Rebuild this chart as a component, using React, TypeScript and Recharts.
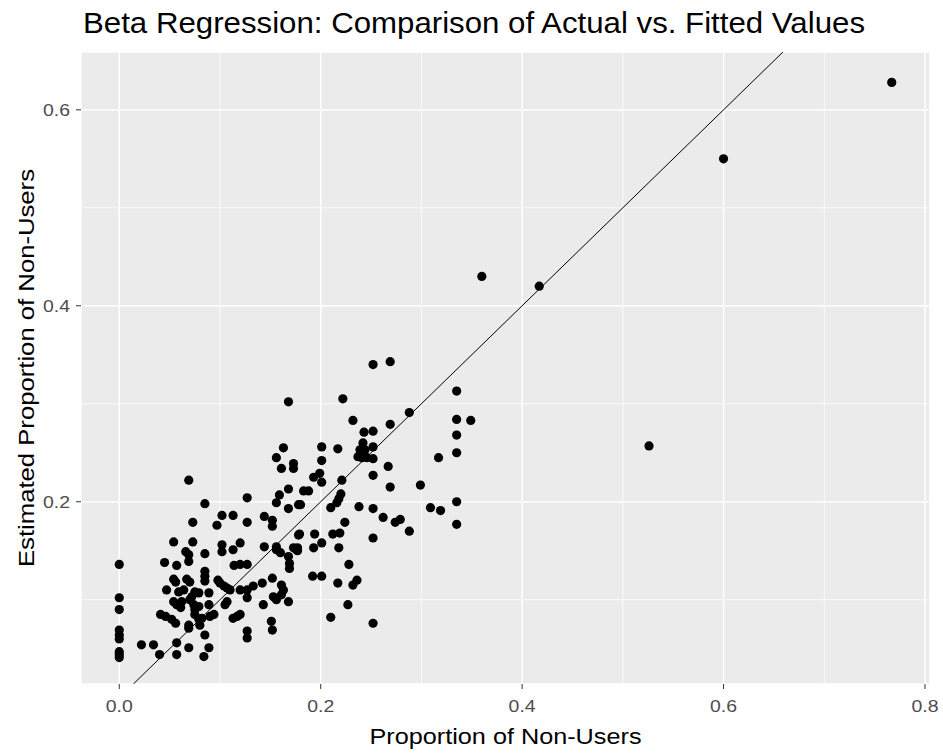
import React from "react";
import {
  ScatterChart,
  Scatter,
  XAxis,
  YAxis,
  CartesianGrid,
  ReferenceLine,
  Label,
} from "recharts";

const chartTitle = "Beta Regression: Comparison of Actual vs. Fitted Values";
const xTitle = "Proportion of Non-Users";
const yTitle = "Estimated Proportion of Non-Users";

const xTicks = [0, 0.2, 0.4, 0.6, 0.8];
const yTicks = [0.2, 0.4, 0.6];
const xMinor = [0.1, 0.3, 0.5, 0.7];
const yMinor = [0.1, 0.3, 0.5];
const xDomain = [-0.038, 0.805];
const yDomain = [0.014, 0.659];
const identityEnds = [0.014, 0.659];

const actual = [
  0, 0, 0, 0, 0, 0, 0, 0, 0,
  0.022, 0.034, 0.040, 0.041, 0.046, 0.045, 0.047,
  0.052, 0.056, 0.054, 0.054, 0.056, 0.054, 0.057, 0.057, 0.057, 0.057,
  0.059, 0.062, 0.061, 0.064,
  0.066, 0.069, 0.069, 0.067, 0.070, 0.069, 0.073, 0.073,
  0.070, 0.074, 0.075, 0.079, 0.072, 0.075, 0.079,
  0.069, 0.069, 0.069, 0.075, 0.079, 0.080, 0.082,
  0.085, 0.085, 0.085, 0.085, 0.085, 0.089, 0.089, 0.090, 0.094, 0.085, 0.089, 0.084,
  0.097, 0.102, 0.113, 0.102, 0.102, 0.113, 0.098, 0.100, 0.104, 0.107, 0.110, 0.107, 0.105,
  0.114, 0.120, 0.127, 0.120, 0.127, 0.127,
  0.113, 0.117, 0.120, 0.120, 0.127, 0.133, 0.142, 0.127, 0.127, 0.127,
  0.144, 0.152, 0.152, 0.144, 0.156, 0.143, 0.152, 0.153, 0.156, 0.161, 0.168, 0.151, 0.152,
  0.156, 0.160, 0.161, 0.163,
  0.168, 0.163, 0.156, 0.173, 0.173, 0.161, 0.168, 0.159, 0.156, 0.168, 0.178, 0.178, 0.173,
  0.168, 0.169, 0.169, 0.176,
  0.183, 0.188, 0.180, 0.179, 0.194, 0.177, 0.193, 0.177,
  0.201, 0.201, 0.199, 0.193, 0.201, 0.201, 0.192, 0.201,
  0.217, 0.221, 0.220, 0.218, 0.216, 0.210, 0.212, 0.219, 0.218, 0.217, 0.210,
  0.222, 0.232, 0.224, 0.228, 0.232, 0.236, 0.227,
  0.243, 0.252, 0.242, 0.239, 0.244, 0.237, 0.241, 0.246, 0.252, 0.252, 0.252, 0.238, 0.252, 0.252, 0.252, 0.252,
  0.269, 0.269, 0.267, 0.269, 0.262, 0.274, 0.279,
  0.288, 0.288, 0.299, 0.309, 0.319, 0.317,
  0.335, 0.335, 0.349, 0.335, 0.335, 0.335, 0.335,
  0.360, 0.417, 0.526, 0.600, 0.767,
];

const fitted = [
  0.136, 0.102, 0.090, 0.069, 0.064, 0.060, 0.047, 0.044, 0.041,
  0.054, 0.054, 0.044, 0.085, 0.083, 0.138, 0.110,
  0.080, 0.076, 0.159, 0.121, 0.118, 0.098, 0.095, 0.135, 0.056, 0.044,
  0.108, 0.098, 0.092, 0.110,
  0.149, 0.146, 0.139, 0.121, 0.118, 0.222, 0.179, 0.159,
  0.100, 0.095, 0.090, 0.093, 0.103, 0.108, 0.107,
  0.071, 0.074, 0.051, 0.085, 0.080, 0.074, 0.081,
  0.198, 0.147, 0.129, 0.124, 0.119, 0.107, 0.095, 0.083, 0.085, 0.064, 0.051, 0.042,
  0.176, 0.186, 0.186, 0.156, 0.149, 0.151, 0.120, 0.117, 0.114, 0.112, 0.110, 0.098, 0.095,
  0.135, 0.136, 0.136, 0.158, 0.204, 0.179,
  0.081, 0.083, 0.085, 0.110, 0.110, 0.114, 0.117, 0.102, 0.068, 0.061,
  0.185, 0.181, 0.175, 0.154, 0.154, 0.095, 0.122, 0.103, 0.100, 0.105, 0.098, 0.078, 0.069,
  0.151, 0.148, 0.115, 0.110,
  0.302, 0.255, 0.245, 0.239, 0.234, 0.234, 0.213, 0.207, 0.199, 0.193, 0.197, 0.166, 0.153,
  0.144, 0.137, 0.132, 0.151,
  0.211, 0.211, 0.197, 0.167, 0.167, 0.153, 0.153, 0.150,
  0.256, 0.242, 0.229, 0.225, 0.220, 0.158, 0.124, 0.124,
  0.254, 0.222, 0.208, 0.203, 0.199, 0.194, 0.167, 0.168, 0.153, 0.117, 0.082,
  0.305, 0.283, 0.179, 0.136, 0.115, 0.120, 0.095,
  0.271, 0.272, 0.260, 0.253, 0.253, 0.246, 0.245, 0.245, 0.256, 0.244, 0.227, 0.195, 0.193, 0.163, 0.076, 0.340,
  0.343, 0.279, 0.236, 0.215, 0.184, 0.179, 0.182,
  0.291, 0.170, 0.217, 0.194, 0.191, 0.245,
  0.313, 0.284, 0.283, 0.268, 0.250, 0.200, 0.177,
  0.430, 0.420, 0.257, 0.550, 0.628,
];

const points = actual.map((a, i) => ({ actual: a, fitted: fitted[i] }));

const FONT = "'Liberation Sans', Arial, sans-serif";

const Dot = (props: any) => {
  const { cx, cy } = props;
  if (cx == null || cy == null) return null;
  return <circle cx={cx} cy={cy} r={4.6} fill="#000000" />;
};

const XTick = (props: any) => {
  const { x, y, payload } = props;
  return (
    <text
      x={x}
      y={y}
      dy="0.71em"
      textAnchor="middle"
      fontSize={17}
      fill="#4D4D4D"
      fontFamily={FONT}
      textLength={27}
      lengthAdjust="spacingAndGlyphs"
    >
      {Number(payload.value).toFixed(1)}
    </text>
  );
};

const YTick = (props: any) => {
  const { x, y, payload } = props;
  return (
    <text
      x={x}
      y={y}
      dy="0.355em"
      textAnchor="end"
      fontSize={17}
      fill="#4D4D4D"
      fontFamily={FONT}
      textLength={27}
      lengthAdjust="spacingAndGlyphs"
    >
      {Number(payload.value).toFixed(1)}
    </text>
  );
};

export default function App() {
  return (
    <div
      style={{
        position: "absolute",
        left: 0,
        top: 0,
        width: 943,
        height: 753,
        background: "#ffffff",
        fontFamily: FONT,
      }}
    >
      <svg
        width={943}
        height={50}
        style={{ position: "absolute", left: 0, top: 0 }}
      >
        <text
          x={83}
          y={33}
          fontSize={29}
          fill="#000000"
          fontFamily={FONT}
          textLength={782}
          lengthAdjust="spacingAndGlyphs"
        >
          {chartTitle}
        </text>
      </svg>
      <ScatterChart
        width={943}
        height={753}
        margin={{ top: 52, right: 13, bottom: 0, left: 0 }}
        style={{ fontFamily: FONT }}
      >
        <CartesianGrid
          fill="#EBEBEB"
          stroke="#FFFFFF"
          strokeWidth={1.5}
          horizontal={true}
          vertical={true}
        />
        {xMinor.map((v) => (
          <ReferenceLine
            key={"xm" + v}
            x={v}
            stroke="#FFFFFF"
            strokeWidth={0.75}
            ifOverflow="extendDomain"
          />
        ))}
        {yMinor.map((v) => (
          <ReferenceLine
            key={"ym" + v}
            y={v}
            stroke="#FFFFFF"
            strokeWidth={0.75}
            ifOverflow="extendDomain"
          />
        ))}
        <XAxis
          type="number"
          dataKey="actual"
          domain={xDomain}
          ticks={xTicks}
          allowDataOverflow
          height={69}
          axisLine={false}
          tickLine={{ stroke: "#333333", strokeWidth: 1 }}
          tickSize={5}
          tickMargin={11}
          tick={<XTick />}
        >
          <Label
            content={(p: any) => {
              const vb = p.viewBox;
              return (
                <text
                  x={vb.x + vb.width / 2}
                  y={vb.y + 60}
                  textAnchor="middle"
                  fontSize={22}
                  fill="#000000"
                  fontFamily={FONT}
                  textLength={272}
                  lengthAdjust="spacingAndGlyphs"
                >
                  {xTitle}
                </text>
              );
            }}
          />
        </XAxis>
        <YAxis
          type="number"
          dataKey="fitted"
          domain={yDomain}
          ticks={yTicks}
          allowDataOverflow
          width={81}
          axisLine={false}
          tickLine={{ stroke: "#333333", strokeWidth: 1 }}
          tickSize={5}
          tickMargin={6}
          tick={<YTick />}
        >
          <Label
            content={(p: any) => {
              const vb = p.viewBox;
              const cx = vb.x + 26;
              const cy = vb.y + vb.height / 2;
              return (
                <text
                  x={cx}
                  y={cy}
                  textAnchor="middle"
                  dominantBaseline="central"
                  fontSize={22}
                  fill="#000000"
                  fontFamily={FONT}
                  textLength={398}
                  lengthAdjust="spacingAndGlyphs"
                  transform={`rotate(-90 ${cx} ${cy})`}
                >
                  {yTitle}
                </text>
              );
            }}
          />
        </YAxis>
        <Scatter
          data={points}
          shape={<Dot />}
          isAnimationActive={false}
        />
        <ReferenceLine
          segment={[
            { x: identityEnds[0], y: identityEnds[0] },
            { x: identityEnds[1], y: identityEnds[1] },
          ]}
          stroke="#000000"
          strokeWidth={1}
          ifOverflow="hidden"
        />
      </ScatterChart>
    </div>
  );
}
